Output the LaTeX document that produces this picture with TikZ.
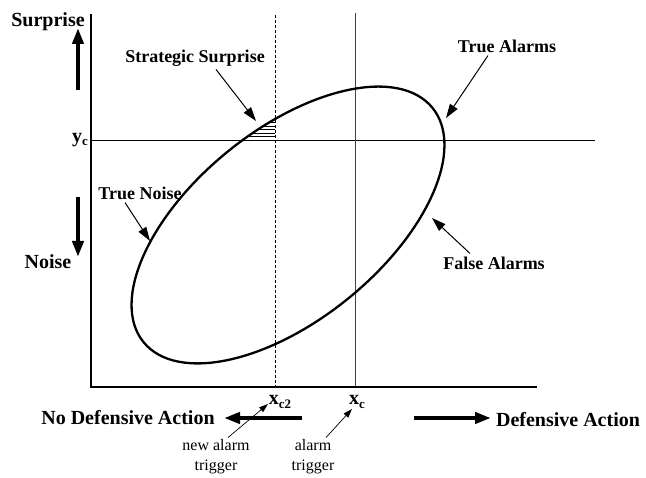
\documentclass[tikz,border=0pt]{standalone}
\usepackage{fontspec}
\setmainfont{Liberation Serif}
\usetikzlibrary{arrows.meta}
\begin{document}
\begin{tikzpicture}[x=1pt,y=1pt,
  big/.style={font=\fontsize{20}{22}\selectfont\bfseries, inner sep=0pt},
  lab/.style={font=\fontsize{18}{20}\selectfont\bfseries, inner sep=0pt},
  small/.style={font=\fontsize{16}{20}\selectfont, inner sep=0pt, align=center},
  axisline/.style={line width=2.4pt, line join=miter},
  thinline/.style={line width=0.8pt},
  dashline/.style={line width=0.8pt, dash pattern=on 3pt off 2pt},
  ptr/.style={line width=1pt, -{Triangle[length=14pt,width=9pt]}},
  sptr/.style={line width=0.7pt, -{Triangle[length=9pt,width=6pt]}},
  fat/.style={line width=4.5pt, -{Triangle[length=16pt,width=11pt]}},
  curve/.style={line width=2.3pt},
]
\useasboundingbox (0,0) rectangle (646,-478);

% reference lines
\coordinate (O) at (91,-387);
\coordinate (Ytop) at (91,-14);
\coordinate (Xend) at (537,-387);
\coordinate (ycL) at (91,-140);
\coordinate (ycR) at (595,-140);
\coordinate (xcT) at (355,-13);
\coordinate (xcB) at (355,-387);
\coordinate (xctT) at (275,-15);
\coordinate (xctB) at (275,-387);
\coordinate (C) at (288,-225);

\draw[thinline] (ycL) -- (ycR);
\draw[thinline, black!75] (xcT) -- (xcB);
\draw[dashline] (xctT) -- (xctB);

% hatching
\begin{scope}
  \clip[rotate around={39:(C)}] (C) ellipse [x radius=186, y radius=95];
  \clip (200,-118) rectangle (275,-140);
  \foreach \yy in {122.5,126,129.5,133,136.5}
    \draw[line width=0.6pt] (200,-\yy) -- (275,-\yy);
\end{scope}

% ellipse
\draw[curve, rotate around={39:(C)}] (C) ellipse [x radius=186, y radius=95];

% axes
\draw[axisline] (Ytop) -- (O) -- (Xend);

% axis labels
\node[big] (surprise) at (48,-22) {Surprise};
\coordinate (supA) at (78,-90);
\coordinate (supB) at (78,-28);
\draw[fat] (supA) -- (supB);
\coordinate (noiA) at (78,-197);
\coordinate (noiB) at (78,-257);
\draw[fat] (noiA) -- (noiB);
\node[big] (noise) at (48,-262) {Noise};
\node[big, anchor=east] (yc) at (88,-140) {y\raisebox{-0.35ex}{\fontsize{13}{13}\selectfont c}};

\node[big] (xc2) at (280,-402) {x\raisebox{-0.35ex}{\fontsize{13}{13}\selectfont c2}};
\node[big] (xc) at (357,-402) {x\raisebox{-0.35ex}{\fontsize{13}{13}\selectfont c}};

\node[big] (nda) at (128,-418) {No Defensive Action};
\node[big] (da) at (568,-420) {Defensive Action};
\coordinate (laA) at (302,-418);
\coordinate (laB) at (224,-418);
\draw[fat] (laA) -- (laB);
\coordinate (raA) at (414,-418);
\coordinate (raB) at (491,-418);
\draw[fat] (raA) -- (raB);

% annotations
\node[lab] (ss) at (195,-58) {Strategic Surprise};
\coordinate (ssT) at (256,-121);
\draw[ptr] ([xshift=21pt,yshift=-3pt]ss.south) -- (ssT);

\node[lab] (tn) at (140,-193) {True Noise};
\coordinate (tnT) at (150,-241);
\draw[ptr] ([xshift=-15pt,yshift=-3pt]tn.south) -- (tnT);

\node[lab] (ta) at (507,-46) {True Alarms};
\coordinate (taT) at (446,-118);
\draw[ptr] ([xshift=-19pt,yshift=-3pt]ta.south) -- (taT);

\node[lab] (fa) at (494,-263) {False Alarms};
\coordinate (faT) at (432,-218);
\draw[ptr] ([xshift=-24pt,yshift=3pt]fa.north) -- (faT);

\node[small] (nat) at (216,-457) {new alarm\\trigger};
\coordinate (natT) at (268,-404);
\draw[sptr] ([xshift=12pt,yshift=2pt]nat.north) -- (natT);

\node[small] (at) at (313,-457) {alarm\\trigger};
\coordinate (atT) at (352,-409);
\draw[sptr] ([xshift=13pt,yshift=2pt]at.north) -- (atT);
\end{tikzpicture}
\end{document}
